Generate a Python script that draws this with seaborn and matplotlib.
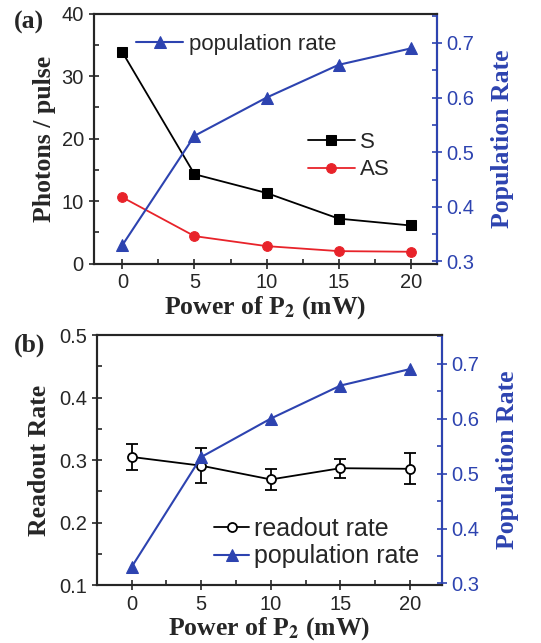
import numpy as np
import matplotlib
matplotlib.use("Agg")
import matplotlib.pyplot as plt
import seaborn as sns
from matplotlib.ticker import MultipleLocator

# data
power = [0, 5, 10, 15, 20]
photons_s = [33.8, 14.3, 11.3, 7.2, 6.1]
photons_as = [10.6, 4.4, 2.8, 2.0, 1.9]
pop_rate = [0.33, 0.53, 0.60, 0.66, 0.69]
readout = [0.305, 0.291, 0.269, 0.287, 0.286]
readout_err = [0.021, 0.028, 0.017, 0.015, 0.025]

sns.set_style("ticks")
plt.rcParams['font.family'] = ['Liberation Sans', 'DejaVu Sans']
plt.rcParams['mathtext.fontset'] = 'stix'

blue = '#2D43B0'
red = '#E8232A'
serif = 'Liberation Serif'
tick_fs = 14.5
leg_fs = 16
lab_fs = 18.5

fig = plt.figure(figsize=(5.41, 6.43), dpi=100)
ax1 = fig.add_axes([0.173, 0.590, 0.634, 0.389])
ax2 = fig.add_axes([0.179, 0.090, 0.638, 0.389])


def style_axes(ax, axr):
    for a in (ax, axr):
        a.tick_params(axis='both', which='major', direction='inout', length=7, width=1.2, labelsize=tick_fs)
        a.tick_params(axis='both', which='minor', direction='in', length=3.5, width=1.2)
        for s in a.spines.values():
            s.set_linewidth(1.5)
    ax.xaxis.set_major_locator(MultipleLocator(5))
    ax.xaxis.set_minor_locator(MultipleLocator(2.5))
    ax.tick_params(top=False, right=False)
    axr.tick_params(axis='y', colors=blue, which='both')
    axr.spines['right'].set_color(blue)
    axr.yaxis.set_major_locator(MultipleLocator(0.1))
    axr.yaxis.set_minor_locator(MultipleLocator(0.05))
    axr.set_ylabel('Population Rate', color=blue, fontsize=lab_fs, fontweight='bold',
                   family=serif, labelpad=12)
    ax.set_xlabel(r'Power of P$_\mathbf{2}$ (mW)', fontsize=lab_fs, fontweight='bold',
                  family=serif, labelpad=1)


# panel (a)
axr1 = ax1.twinx()
sns.lineplot(x=power, y=photons_s, ax=ax1, color='black', marker='s', markersize=6.5,
             markeredgecolor='black', linewidth=1.3, label='S', legend=False)
sns.lineplot(x=power, y=photons_as, ax=ax1, color=red, marker='o', markersize=7,
             markeredgecolor=red, linewidth=1.3, label='AS', legend=False)
sns.lineplot(x=power, y=pop_rate, ax=axr1, color=blue, marker='^', markersize=8,
             markeredgecolor=blue, linewidth=1.5, label='population rate', legend=False)
ax1.set_xlim(-2, 21.8)
ax1.set_ylim(0, 40)
ax1.yaxis.set_major_locator(MultipleLocator(10))
ax1.yaxis.set_minor_locator(MultipleLocator(5))
axr1.set_ylim(0.296, 0.754)
ax1.set_ylabel('Photons / pulse', fontsize=lab_fs, fontweight='bold', family=serif, labelpad=4)
style_axes(ax1, axr1)
h, l = ax1.get_legend_handles_labels()
ax1.legend(h, l, loc='center left', bbox_to_anchor=(0.625, 0.43), frameon=False,
           fontsize=leg_fs, handlelength=2.1, handletextpad=0.25, labelspacing=0.3,
           borderaxespad=0, borderpad=0)
h, l = axr1.get_legend_handles_labels()
axr1.legend(h, l, loc='center left', bbox_to_anchor=(0.125, 0.876), frameon=False,
            fontsize=leg_fs, handlelength=2.1, handletextpad=0.25, borderaxespad=0, borderpad=0)
fig.text(0.025, 0.965, '(a)', fontsize=lab_fs, fontweight='bold', family=serif, va='center')

# panel (b)
axr2 = ax2.twinx()
ax2.errorbar(power, readout, yerr=readout_err, fmt='none', ecolor='black', elinewidth=1.3,
             capsize=4, capthick=1.3)
sns.lineplot(x=power, y=readout, ax=ax2, color='black', marker='o', markersize=6.5,
             markerfacecolor='white', markeredgecolor='black', markeredgewidth=1.3,
             linewidth=1.3, label='readout rate', legend=False)
sns.lineplot(x=power, y=pop_rate, ax=axr2, color=blue, marker='^', markersize=8,
             markeredgecolor=blue, linewidth=1.5, label='population rate', legend=False)
ax2.set_xlim(-2.5, 22.3)
ax2.set_ylim(0.1, 0.5)
ax2.yaxis.set_major_locator(MultipleLocator(0.1))
ax2.yaxis.set_minor_locator(MultipleLocator(0.05))
axr2.set_ylim(0.297, 0.752)
ax2.set_ylabel('Readout Rate', fontsize=lab_fs, fontweight='bold', family=serif, labelpad=6)
style_axes(ax2, axr2)
h1, l1 = ax2.get_legend_handles_labels()
h2, l2 = axr2.get_legend_handles_labels()
axr2.legend(h1 + h2, l1 + l2, loc='center left', bbox_to_anchor=(0.34, 0.17), frameon=False,
            fontsize=18, handlelength=1.4, handletextpad=0.2, labelspacing=0.15,
            borderaxespad=0, borderpad=0)
fig.text(0.025, 0.463, '(b)', fontsize=lab_fs, fontweight='bold', family=serif, va='center')

fig.savefig('out.png', dpi=100)
